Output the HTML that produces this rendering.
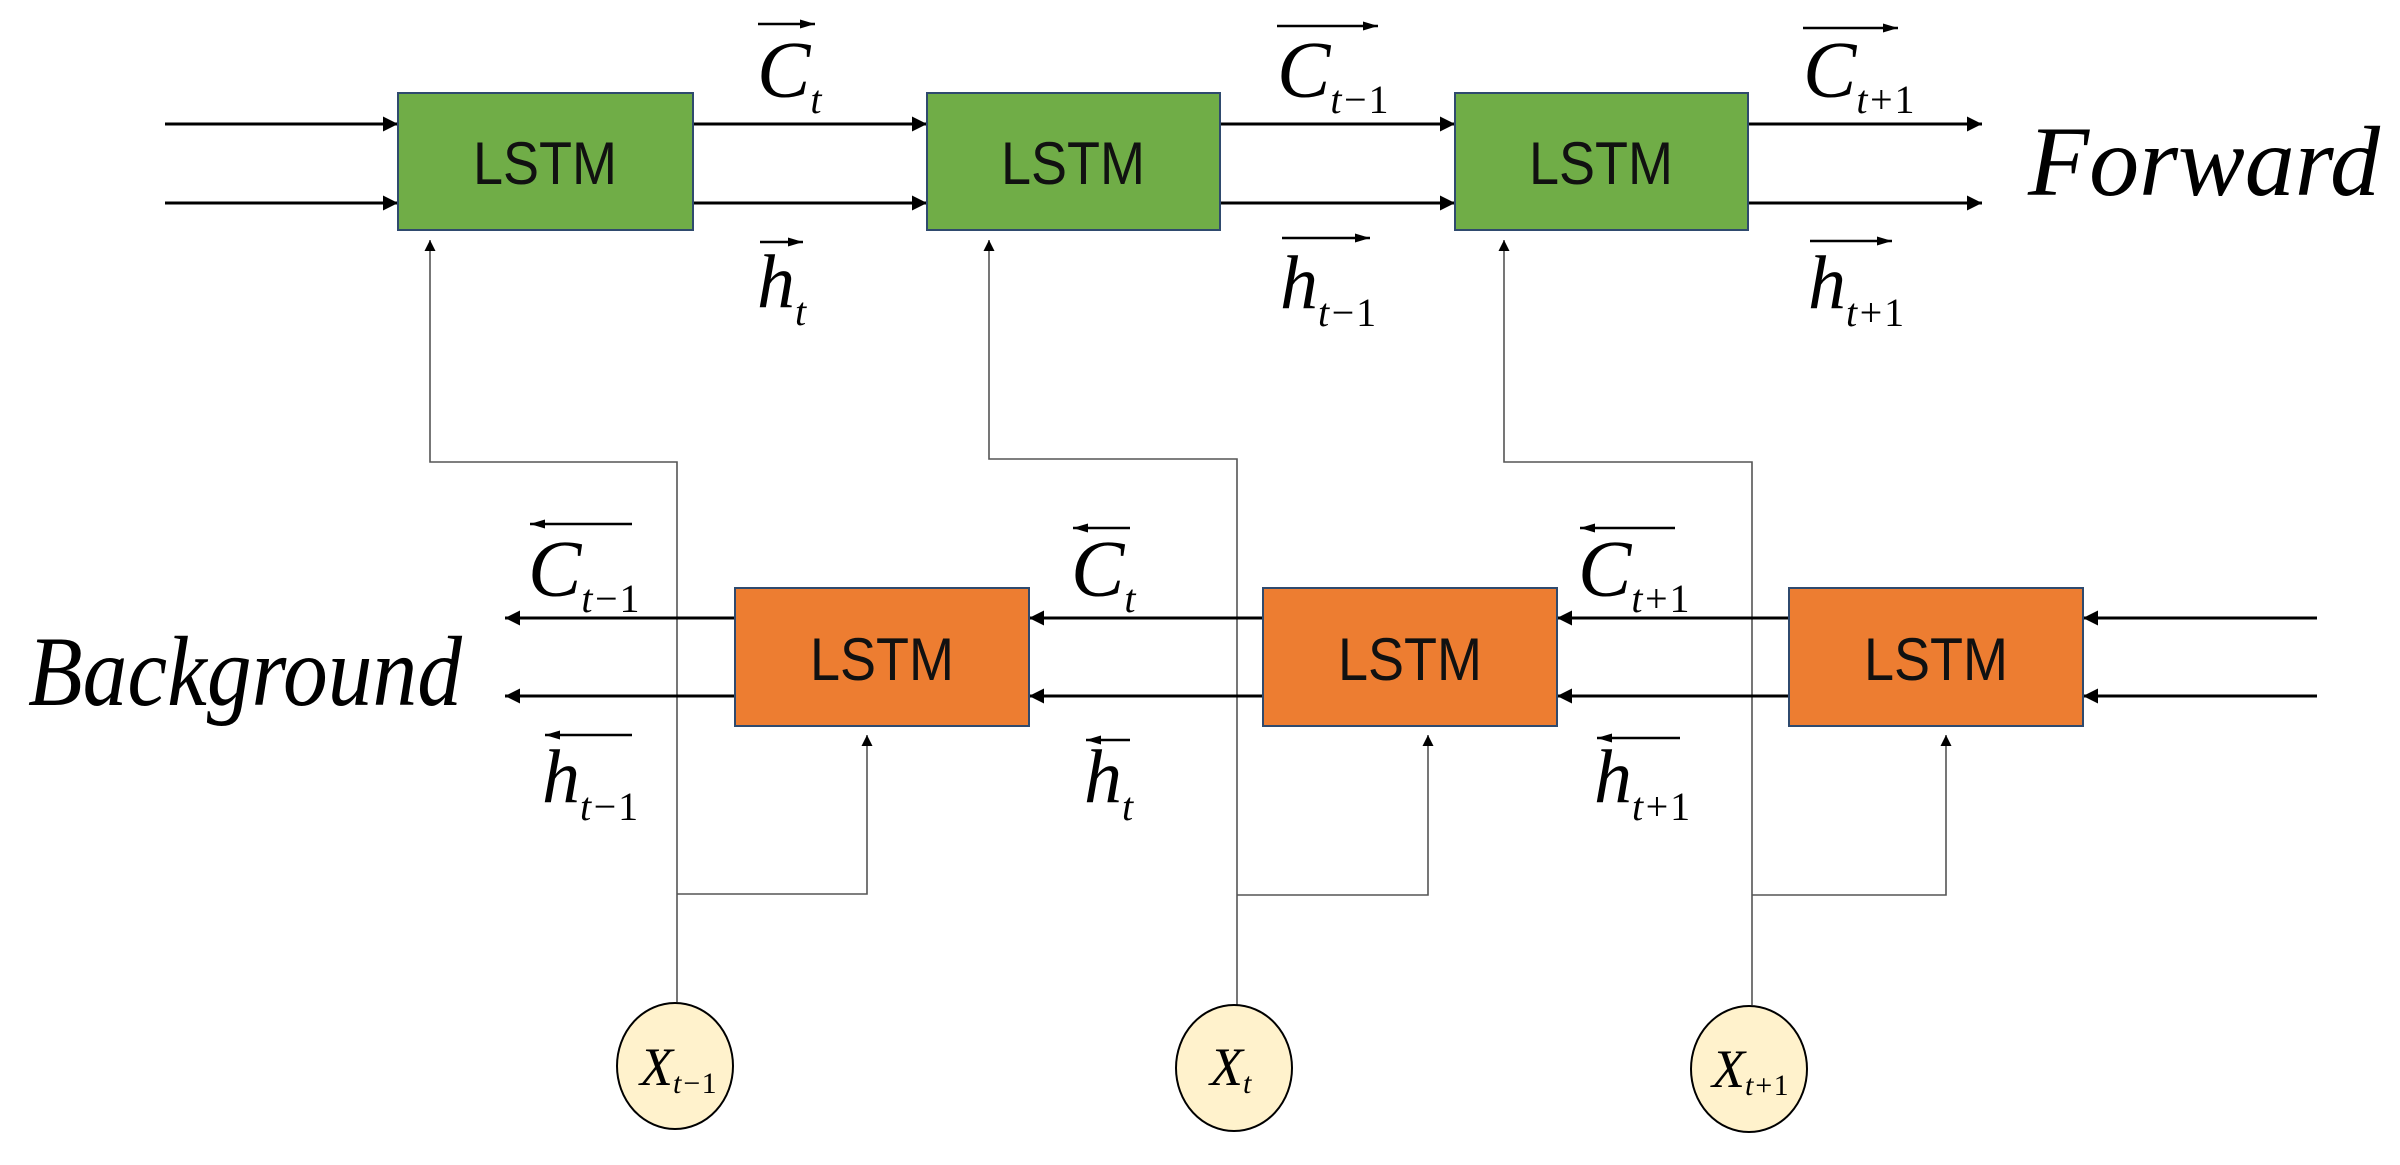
<!DOCTYPE html>
<html><head><meta charset="utf-8"><style>
html,body{margin:0;padding:0;background:#fff;}
svg{display:block;}
.m{font-family:"Liberation Serif",serif;font-style:italic;fill:#000;}
.n{font-style:normal;}
.l{font-family:"Liberation Sans",sans-serif;fill:#111;}
</style></head><body>
<svg width="2400" height="1165" viewBox="0 0 2400 1165" xmlns="http://www.w3.org/2000/svg">
<defs>
<marker id="a" viewBox="0 0 10 10" refX="10" refY="5" markerWidth="5" markerHeight="5" orient="auto"><path d="M0,0 L10,5 L0,10z" fill="#000"/></marker>
<marker id="s" viewBox="0 0 10 10" refX="10" refY="5" markerWidth="7" markerHeight="9" orient="auto"><path d="M0,0 L10,5 L0,10z" fill="#000"/></marker>
<marker id="o" viewBox="0 0 10 10" refX="10" refY="5" markerWidth="6" markerHeight="6" orient="auto"><path d="M0,2 L10,5 L0,8z" fill="#000"/></marker>
</defs>
<g stroke="#555" stroke-width="1.6" fill="none">
<polyline points="677,1002 677,462 430,462 430,240" marker-end="url(#s)"/>
<polyline points="677,894 867,894 867,735" marker-end="url(#s)"/>
<polyline points="1237,1005 1237,459 989,459 989,240" marker-end="url(#s)"/>
<polyline points="1237,895 1428,895 1428,735" marker-end="url(#s)"/>
<polyline points="1752,1005 1752,462 1504,462 1504,240" marker-end="url(#s)"/>
<polyline points="1752,895 1946,895 1946,735" marker-end="url(#s)"/>
</g>
<g stroke="#000" stroke-width="3" fill="none">
<line x1="165" y1="124" x2="398" y2="124" marker-end="url(#a)"/>
<line x1="165" y1="203" x2="398" y2="203" marker-end="url(#a)"/>
<line x1="693" y1="124" x2="927" y2="124" marker-end="url(#a)"/>
<line x1="693" y1="203" x2="927" y2="203" marker-end="url(#a)"/>
<line x1="1220" y1="124" x2="1455" y2="124" marker-end="url(#a)"/>
<line x1="1220" y1="203" x2="1455" y2="203" marker-end="url(#a)"/>
<line x1="1748" y1="124" x2="1982" y2="124" marker-end="url(#a)"/>
<line x1="1748" y1="203" x2="1982" y2="203" marker-end="url(#a)"/>
<line x1="2317" y1="618" x2="2083" y2="618" marker-end="url(#a)"/>
<line x1="2317" y1="696" x2="2083" y2="696" marker-end="url(#a)"/>
<line x1="1789" y1="618" x2="1557" y2="618" marker-end="url(#a)"/>
<line x1="1789" y1="696" x2="1557" y2="696" marker-end="url(#a)"/>
<line x1="1263" y1="618" x2="1029" y2="618" marker-end="url(#a)"/>
<line x1="1263" y1="696" x2="1029" y2="696" marker-end="url(#a)"/>
<line x1="735" y1="618" x2="505" y2="618" marker-end="url(#a)"/>
<line x1="735" y1="696" x2="505" y2="696" marker-end="url(#a)"/>
</g>
<g stroke="#2f4a6e" stroke-width="2">
<rect x="398" y="93" width="295" height="137" fill="#70ad47"/>
<rect x="927" y="93" width="293" height="137" fill="#70ad47"/>
<rect x="1455" y="93" width="293" height="137" fill="#70ad47"/>
<rect x="735" y="588" width="294" height="138" fill="#ed7d31"/>
<rect x="1263" y="588" width="294" height="138" fill="#ed7d31"/>
<rect x="1789" y="588" width="294" height="138" fill="#ed7d31"/>
</g>
<g class="l" font-size="60" text-anchor="middle">
<text x="545" y="184" textLength="144" lengthAdjust="spacingAndGlyphs">LSTM</text>
<text x="1073" y="184" textLength="144" lengthAdjust="spacingAndGlyphs">LSTM</text>
<text x="1601" y="184" textLength="144" lengthAdjust="spacingAndGlyphs">LSTM</text>
<text x="882" y="680" textLength="144" lengthAdjust="spacingAndGlyphs">LSTM</text>
<text x="1410" y="680" textLength="144" lengthAdjust="spacingAndGlyphs">LSTM</text>
<text x="1936" y="680" textLength="144" lengthAdjust="spacingAndGlyphs">LSTM</text>
</g>
<g fill="#fff2cc" stroke="#000" stroke-width="2">
<ellipse cx="675" cy="1066" rx="58" ry="63"/>
<ellipse cx="1234" cy="1068" rx="58" ry="63"/>
<ellipse cx="1749" cy="1069" rx="58" ry="63"/>
</g>
<g class="m">
<text x="640" y="1085" font-size="54">X<tspan font-size="30" dy="8">t−<tspan class="n">1</tspan></tspan></text>
<text x="1210" y="1085" font-size="54">X<tspan font-size="30" dy="8">t</tspan></text>
<text x="1712" y="1087" font-size="54">X<tspan font-size="30" dy="8">t+<tspan class="n">1</tspan></tspan></text>
</g>
<g class="m" font-size="80">
<text x="757" y="97">C<tspan font-size="40" dy="16">t</tspan></text>
<text x="757" y="307" font-size="76">h<tspan font-size="40" dy="18">t</tspan></text>
<text x="1277" y="97">C<tspan font-size="40" dy="16">t−<tspan class="n">1</tspan></tspan></text>
<text x="1280" y="308" font-size="76">h<tspan font-size="40" dy="18">t−<tspan class="n">1</tspan></tspan></text>
<text x="1803" y="97">C<tspan font-size="40" dy="16">t+<tspan class="n">1</tspan></tspan></text>
<text x="1808" y="308" font-size="76">h<tspan font-size="40" dy="18">t+<tspan class="n">1</tspan></tspan></text>
<text x="528" y="596">C<tspan font-size="40" dy="16">t−<tspan class="n">1</tspan></tspan></text>
<text x="542" y="802" font-size="76">h<tspan font-size="40" dy="18">t−<tspan class="n">1</tspan></tspan></text>
<text x="1071" y="596">C<tspan font-size="40" dy="16">t</tspan></text>
<text x="1084" y="802" font-size="76">h<tspan font-size="40" dy="18">t</tspan></text>
<text x="1578" y="596">C<tspan font-size="40" dy="16">t+<tspan class="n">1</tspan></tspan></text>
<text x="1594" y="802" font-size="76">h<tspan font-size="40" dy="18">t+<tspan class="n">1</tspan></tspan></text>
</g>
<g stroke="#000" stroke-width="2.5" fill="none">
<line x1="758" y1="24" x2="815" y2="24" marker-end="url(#o)"/>
<line x1="760" y1="242" x2="803" y2="242" marker-end="url(#o)"/>
<line x1="1277" y1="26" x2="1378" y2="26" marker-end="url(#o)"/>
<line x1="1282" y1="238" x2="1370" y2="238" marker-end="url(#o)"/>
<line x1="1803" y1="28" x2="1898" y2="28" marker-end="url(#o)"/>
<line x1="1810" y1="241" x2="1892" y2="241" marker-end="url(#o)"/>
<line x1="632" y1="524" x2="530" y2="524" marker-end="url(#o)"/>
<line x1="632" y1="735" x2="545" y2="735" marker-end="url(#o)"/>
<line x1="1130" y1="528" x2="1073" y2="528" marker-end="url(#o)"/>
<line x1="1130" y1="740" x2="1086" y2="740" marker-end="url(#o)"/>
<line x1="1675" y1="528" x2="1580" y2="528" marker-end="url(#o)"/>
<line x1="1680" y1="738" x2="1597" y2="738" marker-end="url(#o)"/>
</g>
<g class="m" font-size="100">
<text x="2028" y="195" textLength="352" lengthAdjust="spacingAndGlyphs">Forward</text>
<text x="28" y="705" textLength="434" lengthAdjust="spacingAndGlyphs">Background</text>
</g>
</svg>
</body></html>
